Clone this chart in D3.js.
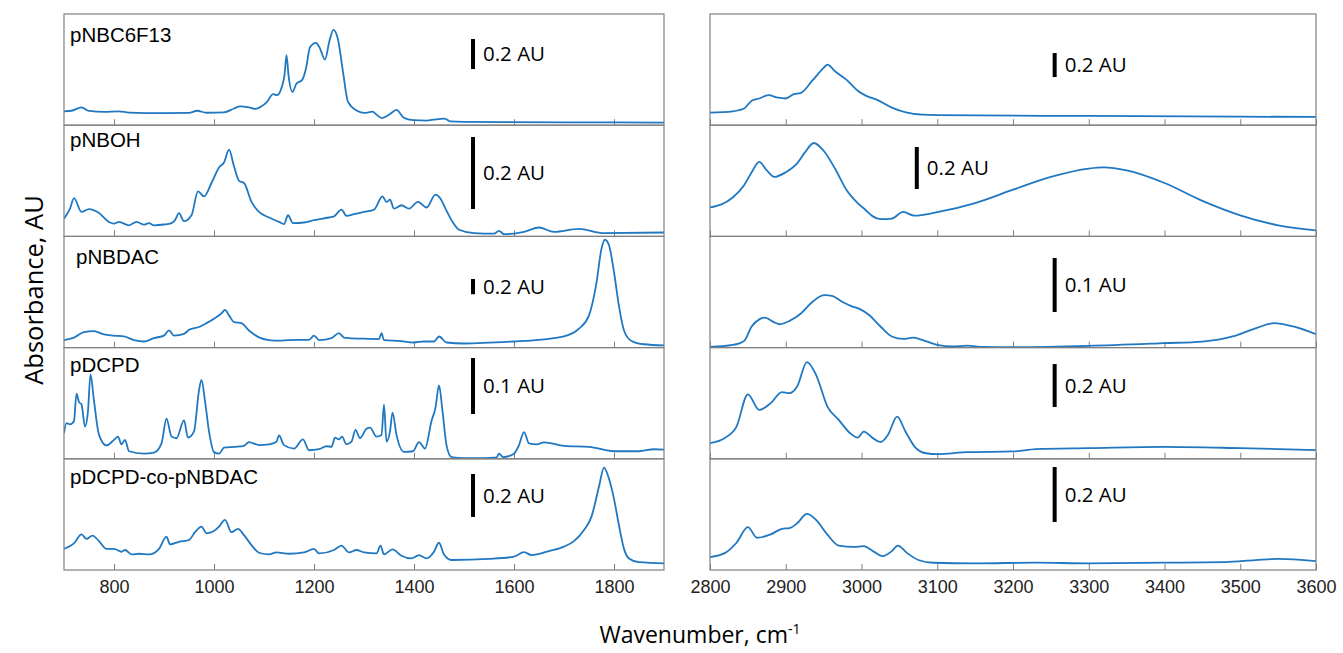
<!DOCTYPE html>
<html>
<head>
<meta charset="utf-8">
<script src="https://cdn.jsdelivr.net/npm/d3@7"></script>
<style>
    body { margin: 0; background: #fff; }
    .frame { fill: none; stroke: #808080; stroke-width: 1.2; }
    .spectrum { fill: none; stroke: #1f78c1; stroke-width: 1.8; stroke-linejoin: round; }
    .axis path, .axis line { stroke: #808080; }
    .axis text { font-family: "Liberation Sans", Arial, sans-serif; font-size: 18px; fill: #222; }
</style>
</head>
<body>
<svg id="chart" width="1343" height="653"></svg>
<script>
// sample names, top to bottom
var samples = ["pNBC6F13", "pNBOH", "pNBDAC", "pDCPD", "pDCPD-co-pNBDAC"];

var leftTicks = [800, 1000, 1200, 1400, 1600, 1800];
var rightTicks = [2800, 2900, 3000, 3100, 3200, 3300, 3400, 3500, 3600];

// relative absorbance (0 = panel bottom, 1 = panel top), fingerprint region
var fp_pNBC6F13 = [[700,0.125],[715,0.13],[735,0.16],[750,0.128],[780,0.12],[810,0.125],[830,0.113],[900,0.108],[950,0.11],[966,0.13],[985,0.112],[1020,0.115],[1040,0.15],[1052,0.17],[1070,0.16],[1083,0.146],[1095,0.17],[1106,0.21],[1118,0.28],[1126,0.27],[1136,0.35],[1141,0.45],[1145,0.63],[1149,0.45],[1157,0.30],[1165,0.375],[1176,0.405],[1184,0.51],[1192,0.70],[1204,0.74],[1211,0.70],[1222,0.59],[1231,0.76],[1239,0.857],[1248,0.77],[1258,0.48],[1268,0.21],[1286,0.13],[1301,0.11],[1317,0.122],[1325,0.095],[1336,0.064],[1352,0.10],[1365,0.137],[1379,0.07],[1398,0.046],[1426,0.042],[1449,0.055],[1461,0.06],[1473,0.034],[1500,0.03],[1700,0.026],[1900,0.024]];
var fp_pNBOH = [[700,0.16],[712,0.25],[720,0.345],[735,0.22],[750,0.245],[770,0.21],[790,0.13],[800,0.115],[810,0.13],[830,0.10],[845,0.13],[860,0.105],[870,0.12],[880,0.10],[900,0.107],[915,0.12],[922,0.146],[930,0.21],[940,0.137],[955,0.19],[968,0.405],[980,0.36],[995,0.48],[1010,0.62],[1020,0.665],[1030,0.78],[1040,0.63],[1050,0.50],[1060,0.48],[1075,0.31],[1090,0.22],[1110,0.17],[1130,0.13],[1140,0.11],[1148,0.19],[1158,0.12],[1180,0.125],[1200,0.146],[1230,0.17],[1240,0.18],[1255,0.24],[1265,0.185],[1280,0.20],[1300,0.22],[1320,0.24],[1337,0.36],[1345,0.31],[1352,0.33],[1360,0.25],[1375,0.28],[1390,0.25],[1408,0.31],[1425,0.26],[1443,0.375],[1452,0.345],[1463,0.25],[1475,0.146],[1490,0.06],[1520,0.03],[1560,0.025],[1570,0.05],[1580,0.02],[1620,0.04],[1650,0.08],[1680,0.04],[1730,0.067],[1780,0.03],[1900,0.035]];
var fp_pNBDAC = [[700,0.068],[720,0.09],[740,0.14],[760,0.148],[780,0.118],[800,0.108],[820,0.10],[840,0.068],[860,0.055],[880,0.086],[900,0.108],[910,0.155],[920,0.108],[940,0.123],[950,0.16],[970,0.185],[985,0.22],[1000,0.26],[1015,0.307],[1022,0.34],[1030,0.29],[1040,0.23],[1055,0.22],[1070,0.154],[1090,0.092],[1110,0.068],[1130,0.062],[1150,0.068],[1190,0.07],[1200,0.108],[1210,0.068],[1235,0.085],[1250,0.13],[1260,0.09],[1270,0.086],[1300,0.08],[1330,0.077],[1335,0.13],[1340,0.068],[1370,0.06],[1400,0.046],[1420,0.055],[1440,0.055],[1450,0.10],[1465,0.046],[1500,0.037],[1600,0.055],[1650,0.07],[1700,0.10],[1730,0.17],[1750,0.29],[1765,0.585],[1775,0.89],[1782,0.97],[1790,0.92],[1800,0.68],[1810,0.37],[1820,0.154],[1835,0.06],[1860,0.03],[1900,0.02]];
var fp_pDCPD = [[700,0.23],[705,0.32],[712,0.31],[720,0.34],[725,0.585],[730,0.51],[735,0.49],[742,0.29],[748,0.43],[753,0.76],[760,0.52],[770,0.215],[785,0.12],[800,0.17],[808,0.20],[815,0.13],[822,0.17],[830,0.068],[860,0.046],[880,0.055],[895,0.138],[905,0.36],[915,0.20],[925,0.185],[940,0.345],[948,0.19],[960,0.246],[970,0.615],[975,0.71],[982,0.52],[990,0.246],[1000,0.06],[1010,0.046],[1020,0.10],[1040,0.108],[1060,0.117],[1070,0.15],[1090,0.123],[1110,0.13],[1125,0.154],[1130,0.21],[1140,0.123],[1160,0.092],[1178,0.175],[1190,0.077],[1210,0.086],[1225,0.113],[1235,0.108],[1242,0.19],[1250,0.175],[1256,0.20],[1265,0.13],[1275,0.154],[1283,0.26],[1292,0.185],[1305,0.27],[1312,0.28],[1325,0.20],[1335,0.215],[1340,0.486],[1345,0.154],[1352,0.246],[1357,0.415],[1365,0.215],[1380,0.062],[1398,0.068],[1410,0.15],[1422,0.092],[1435,0.34],[1443,0.46],[1450,0.66],[1457,0.43],[1465,0.123],[1475,0.015],[1500,0.006],[1540,0.006],[1565,0.012],[1570,0.046],[1578,0.015],[1600,0.046],[1610,0.123],[1620,0.24],[1630,0.138],[1645,0.13],[1660,0.148],[1700,0.117],[1750,0.108],[1800,0.068],[1850,0.068],[1880,0.086],[1900,0.083]];
var fp_copolymer = [[700,0.19],[720,0.24],[735,0.32],[745,0.28],[757,0.31],[770,0.26],[785,0.19],[800,0.19],[815,0.164],[822,0.18],[835,0.14],[850,0.146],[870,0.14],[890,0.19],[905,0.30],[912,0.23],[930,0.254],[950,0.27],[962,0.34],[975,0.39],[985,0.33],[1000,0.35],[1010,0.39],[1022,0.45],[1035,0.34],[1048,0.37],[1060,0.313],[1075,0.224],[1090,0.155],[1110,0.14],[1125,0.158],[1150,0.146],[1180,0.158],[1200,0.19],[1210,0.149],[1240,0.18],[1255,0.22],[1270,0.158],[1285,0.18],[1300,0.158],[1325,0.149],[1333,0.22],[1340,0.14],[1357,0.185],[1375,0.128],[1395,0.104],[1410,0.134],[1425,0.104],[1440,0.164],[1450,0.245],[1460,0.14],[1475,0.09],[1550,0.1],[1600,0.12],[1620,0.16],[1635,0.134],[1670,0.17],[1700,0.21],[1720,0.26],[1740,0.36],[1755,0.48],[1770,0.75],[1780,0.92],[1790,0.82],[1800,0.64],[1810,0.40],[1820,0.19],[1830,0.104],[1850,0.07],[1900,0.06]];

// C-H / O-H stretch region
var ch_pNBC6F13 = [[2800,0.113],[2830,0.125],[2845,0.15],[2855,0.22],[2865,0.24],[2877,0.27],[2890,0.247],[2900,0.24],[2910,0.277],[2920,0.29],[2935,0.40],[2950,0.515],[2955,0.545],[2965,0.485],[2980,0.41],[2995,0.31],[3005,0.268],[3020,0.23],[3040,0.158],[3060,0.113],[3080,0.095],[3100,0.09],[3300,0.083],[3500,0.077],[3600,0.074]];
var ch_pNBOH = [[2800,0.26],[2830,0.35],[2845,0.46],[2855,0.577],[2865,0.67],[2875,0.593],[2885,0.535],[2900,0.577],[2915,0.657],[2925,0.753],[2937,0.84],[2950,0.77],[2965,0.61],[2980,0.42],[2995,0.30],[3005,0.24],[3015,0.18],[3025,0.155],[3040,0.16],[3055,0.22],[3070,0.186],[3100,0.218],[3150,0.30],[3200,0.42],[3250,0.535],[3300,0.61],[3320,0.62],[3350,0.593],[3400,0.48],[3450,0.32],[3500,0.19],[3550,0.10],[3600,0.055]];
var ch_pNBDAC = [[2800,0.006],[2830,0.024],[2845,0.06],[2855,0.19],[2865,0.254],[2872,0.27],[2885,0.227],[2892,0.21],[2905,0.24],[2920,0.307],[2935,0.41],[2945,0.46],[2952,0.472],[2962,0.463],[2975,0.41],[2985,0.378],[2998,0.346],[3010,0.293],[3025,0.19],[3040,0.1],[3055,0.078],[3068,0.09],[3080,0.07],[3100,0.024],[3120,0.01],[3140,0.018],[3160,0.006],[3200,0.003],[3300,0.015],[3400,0.04],[3450,0.054],[3490,0.10],[3520,0.173],[3545,0.22],[3570,0.19],[3600,0.12]];
var ch_pDCPD = [[2800,0.14],[2820,0.19],[2835,0.29],[2850,0.58],[2865,0.44],[2880,0.50],[2895,0.60],[2905,0.59],[2915,0.65],[2928,0.87],[2940,0.755],[2955,0.47],[2970,0.35],[2985,0.23],[2995,0.19],[3003,0.245],[3015,0.186],[3025,0.15],[3035,0.216],[3047,0.38],[3058,0.246],[3070,0.11],[3085,0.05],[3100,0.042],[3140,0.06],[3200,0.066],[3230,0.087],[3300,0.096],[3400,0.108],[3500,0.096],[3600,0.078]];
var ch_copolymer = [[2800,0.116],[2820,0.154],[2835,0.245],[2850,0.386],[2862,0.29],[2880,0.32],[2895,0.37],[2905,0.377],[2915,0.42],[2928,0.504],[2940,0.45],[2955,0.318],[2970,0.22],[2990,0.208],[3003,0.214],[3015,0.17],[3028,0.125],[3040,0.17],[3048,0.22],[3060,0.154],[3075,0.09],[3095,0.065],[3150,0.06],[3230,0.066],[3300,0.06],[3400,0.066],[3480,0.071],[3520,0.089],[3550,0.10],[3600,0.08]];

var leftSeries = [fp_pNBC6F13, fp_pNBOH, fp_pNBDAC, fp_pDCPD, fp_copolymer];
var rightSeries = [ch_pNBC6F13, ch_pNBOH, ch_pNBDAC, ch_pDCPD, ch_copolymer];

// scale bars: [wavenumber, from, to] in each panel's relative units, with their labels
var leftBarLabels = ["0.2 AU", "0.2 AU", "0.2 AU", "0.1 AU", "0.2 AU"];
var leftBars = [[1518, 0.505, 0.775], [1518, 0.246, 0.894], [1518, 0.48, 0.617], [1518, 0.403, 0.906], [1518, 0.477, 0.863]];
var rightBarLabels = ["0.2 AU", "0.2 AU", "0.1 AU", "0.2 AU", "0.2 AU"];
var rightBars = [[3255, 0.433, 0.649], [3073, 0.426, 0.804], [3255, 0.32, 0.806], [3255, 0.466, 0.852], [3255, 0.432, 0.926]];


var svg = d3.select("#chart");

var top0 = 14, bottom0 = 570,
    panelH = (bottom0 - top0) / samples.length;

// sample name placement inside each left panel (px from panel top-left)
var nameOffsets = [[6, 28], [6, 22], [12, 28], [6, 24], [6, 25]];

var xLeft = d3.scaleLinear().domain([700, 1900]).range([64, 664]);
var xRight = d3.scaleLinear().domain([2800, 3600]).range([710, 1316]);

function drawColumn(x, series, ticks, bars, barLabels, column) {
    series.forEach(function (data, i) {
        var y0 = top0 + i * panelH;
        var y = d3.scaleLinear().domain([0, 1]).range([y0 + panelH, y0]);
        var g = svg.append("g").attr("class", "panel " + column);

        var clipId = "clip-" + column + i;
        svg.append("clipPath").attr("id", clipId)
            .append("rect")
            .attr("x", x.range()[0]).attr("y", y0)
            .attr("width", x.range()[1] - x.range()[0]).attr("height", panelH);

        // ticks pointing inward from the bottom edge
        g.append("g")
            .attr("class", "axis")
            .attr("transform", "translate(0," + (y0 + panelH) + ")")
            .call(d3.axisTop(x).tickValues(ticks).tickSize(6).tickFormat(""))
            .call(function (a) { a.select(".domain").remove(); });

        var line = d3.line()
            .x(function (d) { return x(d[0]); })
            .y(function (d) { return y(d[1]); })
            .curve(d3.curveMonotoneX);

        g.append("path")
            .datum(data)
            .attr("class", "spectrum")
            .attr("clip-path", "url(#" + clipId + ")")
            .attr("d", line);

        g.append("rect")
            .attr("class", "frame")
            .attr("x", x.range()[0]).attr("y", y0)
            .attr("width", x.range()[1] - x.range()[0]).attr("height", panelH);

        var b = bars[i];
        g.append("line")
            .attr("x1", x(b[0])).attr("x2", x(b[0]))
            .attr("y1", y(b[1])).attr("y2", y(b[2]))
            .attr("stroke", "#000").attr("stroke-width", 4);
        g.append("text")
            .attr("x", x(b[0]) + 10)
            .attr("y", y((b[1] + b[2]) / 2))
            .attr("dy", "0.35em")
            .style("font-family", "'Open Sans', 'Noto Sans', sans-serif")
            .style("font-size", "20.5px")
            .text(barLabels[i]);

        if (column === "left") {
            g.append("text")
                .attr("x", x.range()[0] + nameOffsets[i][0])
                .attr("y", y0 + nameOffsets[i][1])
                .style("font-family", "'Liberation Sans', Arial, sans-serif")
                .style("font-size", "20.5px")
                .text(samples[i]);
        }
    });

    // tick labels under the bottom panel
    svg.append("g")
        .attr("class", "axis")
        .attr("transform", "translate(0," + bottom0 + ")")
        .call(d3.axisBottom(x).tickValues(ticks).tickSize(0).tickPadding(10).tickFormat(d3.format("d")))
        .call(function (a) { a.select(".domain").remove(); });
}

drawColumn(xLeft, leftSeries, leftTicks, leftBars, leftBarLabels, "left");
drawColumn(xRight, rightSeries, rightTicks, rightBars, rightBarLabels, "right");

// axis titles
var title = svg.append("text")
    .attr("x", 700).attr("y", 643)
    .attr("text-anchor", "middle")
    .style("font-family", "'Open Sans', 'Noto Sans', sans-serif")
    .style("font-size", "23px");
title.append("tspan").text("Wavenumber, cm");
title.append("tspan").attr("dy", -9).style("font-size", "14px").text("-1");

svg.append("text")
    .attr("transform", "translate(43," + ((top0 + bottom0) / 2 - 2) + ") rotate(-90)")
    .attr("text-anchor", "middle")
    .style("font-family", "'Open Sans', 'Noto Sans', sans-serif")
    .style("font-size", "25.5px")
    .text("Absorbance, AU");
</script>
</body>
</html>
